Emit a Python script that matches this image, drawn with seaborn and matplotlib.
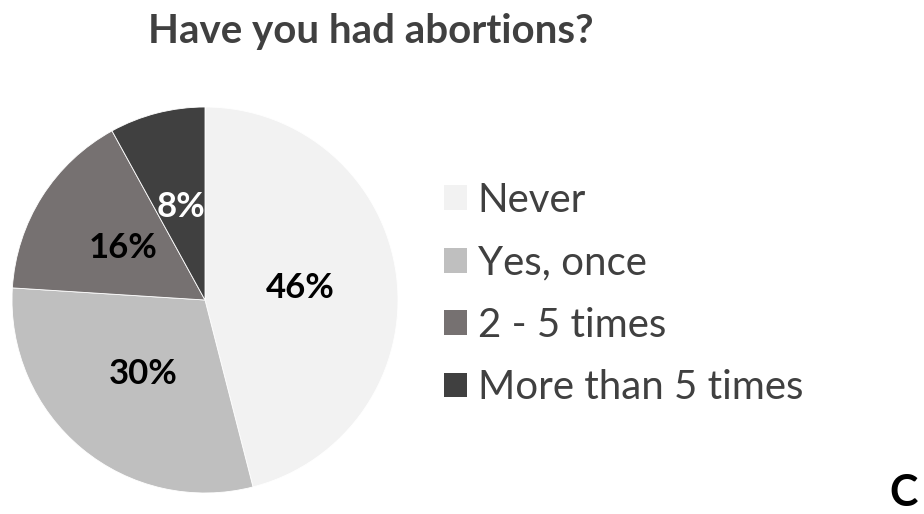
import matplotlib
matplotlib.use("Agg")
import matplotlib.pyplot as plt
import seaborn as sns

# Survey answers and their shares (percent)
categories = ["Never", "Yes, once", "2 - 5 times", "More than 5 times"]
shares = [46, 30, 16, 8]
slice_colors = ["#f2f2f2", "#bfbfbf", "#767171", "#404040"]
label_colors = ["black", "black", "black", "white"]
title_text = "Have you had abortions?"

sns.set_theme(style="white")
plt.rcParams["font.family"] = ["Lato", "DejaVu Sans"]

W, H = 924, 514
fig = plt.figure(figsize=(W / 100, H / 100), dpi=100)
fig.patch.set_facecolor("white")

# pie area: centre (205, 300) px, radius 193 px
cx, cy, r = 205, 300, 193
ax = fig.add_axes([(cx - r) / W, (H - cy - r) / H, 2 * r / W, 2 * r / H])

wedges, _, autotexts = ax.pie(
    shares,
    colors=slice_colors,
    startangle=90,
    counterclock=False,
    autopct=lambda p: f"{p:.0f}%",
    pctdistance=0.5,
    wedgeprops=dict(linewidth=0.6, edgecolor="white"),
    textprops=dict(fontsize=25, fontweight="bold"),
)
for t, c in zip(autotexts, label_colors):
    t.set_color(c)
ax.set_xlim(-1, 1)
ax.set_ylim(-1, 1)
ax.set_aspect("equal")
ax.axis("off")

leg = fig.legend(
    wedges,
    categories,
    loc="upper left",
    bbox_to_anchor=(444 / W, 1 - 182 / H),
    frameon=False,
    fontsize=29,
    handlelength=0.57,
    handleheight=0.57,
    handletextpad=0.27,
    labelspacing=0.63,
    borderpad=0,
    borderaxespad=0,
)
for txt in leg.get_texts():
    txt.set_color("#404040")
for h in leg.legend_handles:
    h.set_edgecolor("none")

fig.text(371 / W, 1 - 32 / H, title_text, ha="center", va="center",
         fontsize=29, fontweight="bold", color="#404040")

# trailing letter at the lower right corner
fig.text(918 / W, 1 / H, "C", ha="right", va="bottom",
         fontsize=31, fontweight="bold", color="black")

fig.savefig("out.png", dpi=100, facecolor="white")
